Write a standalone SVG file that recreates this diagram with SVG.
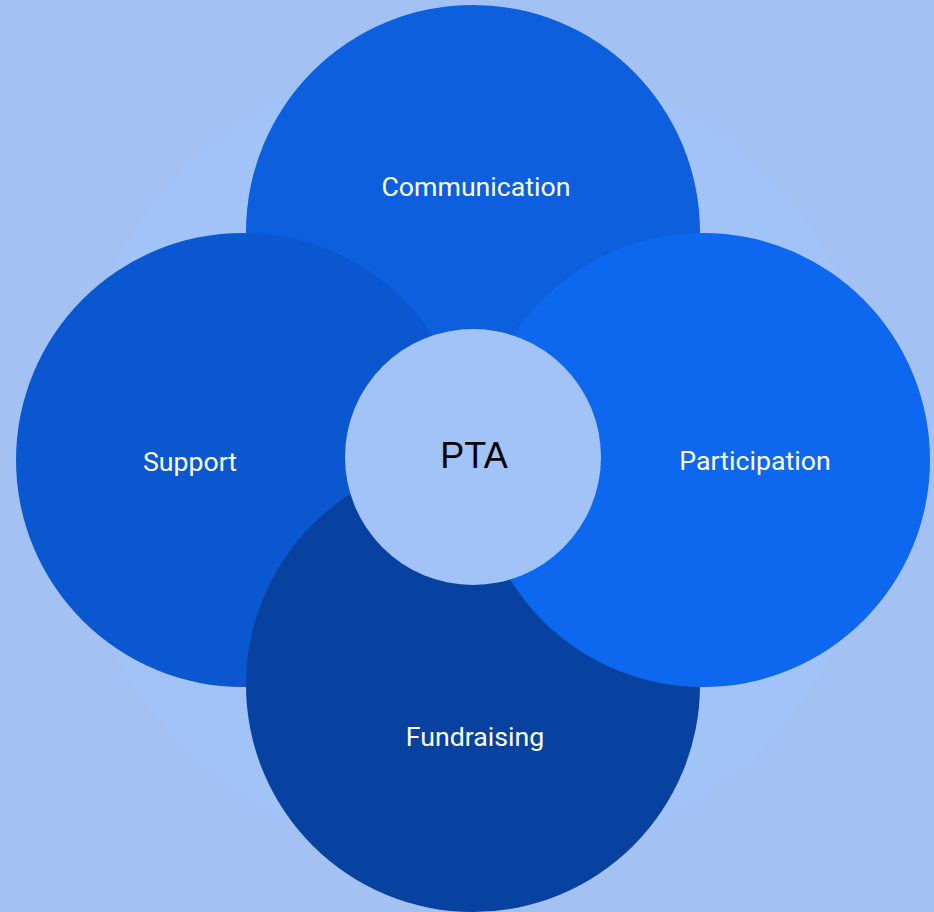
<svg xmlns="http://www.w3.org/2000/svg" width="934" height="912" viewBox="0 0 934 912">
  <style>
    .lbl { font-family: Roboto, "Noto Sans", sans-serif; font-size: 26.7px; fill: #ffffff; text-anchor: middle; }
    .core { font-family: "Liberation Sans", Arial, sans-serif; font-size: 36px; fill: #000000; text-anchor: middle; }
  </style>
  <rect x="0" y="0" width="934" height="912" fill="#a4c1f3"/>
  <circle cx="473" cy="459" r="409" fill="#a1c3f8"/>
  <g id="communication">
    <circle cx="473" cy="232" r="227" fill="#0d5fde"/>
    <text class="lbl" x="476" y="196">Communication</text>
  </g>
  <g id="support">
    <circle cx="243" cy="460" r="227" fill="#0b57d0"/>
    <text class="lbl" x="190" y="471">Support</text>
  </g>
  <g id="fundraising">
    <circle cx="473" cy="685" r="227" fill="#0842a0"/>
    <text class="lbl" x="475" y="746">Fundraising</text>
  </g>
  <g id="participation">
    <circle cx="703" cy="460" r="227" fill="#0e67ef"/>
    <text class="lbl" x="755" y="470">Participation</text>
  </g>
  <g id="pta">
    <circle cx="473" cy="457" r="128" fill="#a1c3f8"/>
    <text class="core" x="474" y="468">PTA</text>
  </g>
  <g id="connectors"/>
</svg>
